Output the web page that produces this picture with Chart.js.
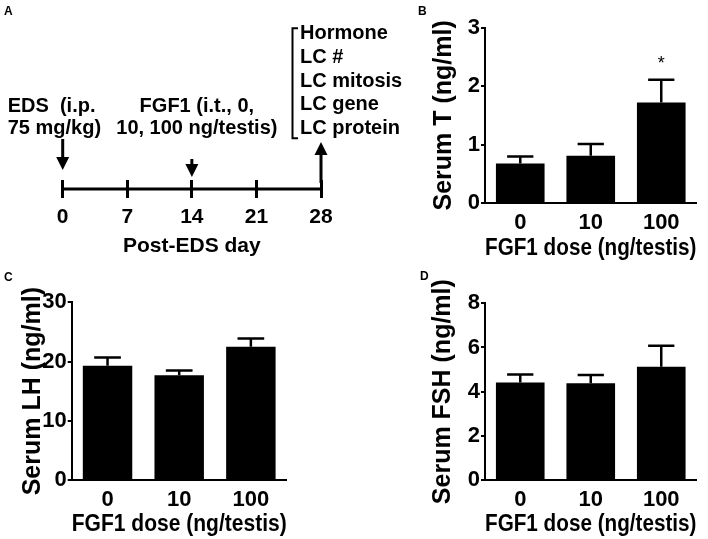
<!DOCTYPE html>
<html>
<head>
<meta charset="utf-8">
<script src="https://cdn.jsdelivr.net/npm/chart.js@4/dist/chart.umd.min.js"></script>
<style>
html,body{margin:0;padding:0;background:#fff;}
#wrap{position:relative;width:708px;height:539px;overflow:hidden;background:#fff;}
canvas{position:absolute;}
</style>
</head>
<body>
<div id="wrap">
<canvas id="cA" width="420" height="265" style="left:0px;top:0px;width:420px;height:265px"></canvas>
<canvas id="cB" width="308" height="265" style="left:400px;top:0px;width:308px;height:265px"></canvas>
<canvas id="cC" width="340" height="274" style="left:0px;top:265px;width:340px;height:274px"></canvas>
<canvas id="cD" width="308" height="274" style="left:400px;top:265px;width:308px;height:274px"></canvas>
</div>
<script>
// ---------- data ----------
const doseLabels = ['0', '10', '100'];
const serumT = [0.68, 0.81, 1.72];
const serumTErr = [0.12, 0.20, 0.39];
const serumTSig = ['', '', '*'];
const serumLH = [19.3, 17.7, 22.5];
const serumLHErr = [1.4, 0.8, 1.4];
const serumLHSig = ['', '', ''];
const serumFSH = [4.41, 4.38, 5.13];
const serumFSHErr = [0.37, 0.37, 0.95];
const serumFSHSig = ['', '', ''];

const timelineTicks = [0, 7, 14, 21, 28];
const eventDays = [0, 14, 28];
const edsText = ['EDS  (i.p.', '75 mg/kg)'];
const fgfText = ['FGF1 (i.t., 0,', '10, 100 ng/testis)'];
const endpoints = ['Hormone', 'LC #', 'LC mitosis', 'LC gene', 'LC protein'];

const FONT = '"Liberation Sans", Arial, Helvetica, sans-serif';
Chart.defaults.font.family = FONT;
Chart.defaults.color = '#000';

// ---------- plugins ----------
const letterPlugin = {
  id: 'panelLetter',
  afterDraw(chart, args, opts) {
    const ctx = chart.ctx;
    ctx.save();
    ctx.fillStyle = '#000';
    ctx.font = 'bold 12px ' + FONT;
    ctx.textAlign = 'left';
    ctx.textBaseline = 'alphabetic';
    ctx.fillText(opts.text, opts.x, opts.y);
    ctx.restore();
  }
};

const errorBarPlugin = {
  id: 'errorBars',
  afterDatasetsDraw(chart) {
    const ctx = chart.ctx;
    const y = chart.scales.y;
    const ds = chart.data.datasets[0];
    const meta = chart.getDatasetMeta(0);
    ctx.save();
    ctx.strokeStyle = '#000';
    ctx.fillStyle = '#000';
    ctx.lineWidth = 2.5;
    meta.data.forEach((bar, i) => {
      const v = ds.data[i];
      const top = y.getPixelForValue(v + ds.errors[i]);
      const base = y.getPixelForValue(v);
      const half = bar.width * 0.27;
      ctx.beginPath();
      ctx.moveTo(bar.x, base);
      ctx.lineTo(bar.x, top);
      ctx.moveTo(bar.x - half, top);
      ctx.lineTo(bar.x + half, top);
      ctx.stroke();
      if (ds.marks && ds.marks[i]) {
        ctx.font = '18px ' + FONT;
        ctx.textAlign = 'center';
        ctx.textBaseline = 'middle';
        ctx.fillText(ds.marks[i], bar.x, top - 16);
      }
    });
    ctx.restore();
  }
};

function drawArrow(ctx, x, yFrom, yTip) {
  const dir = yTip > yFrom ? 1 : -1;
  const headLen = 13, headHalf = 6.5;
  ctx.lineWidth = 3;
  ctx.beginPath();
  ctx.moveTo(x, yFrom);
  ctx.lineTo(x, yTip - dir * headLen);
  ctx.stroke();
  ctx.beginPath();
  ctx.moveTo(x, yTip);
  ctx.lineTo(x - headHalf, yTip - dir * headLen);
  ctx.lineTo(x + headHalf, yTip - dir * headLen);
  ctx.closePath();
  ctx.fill();
}

const timelinePlugin = {
  id: 'timelineNotes',
  afterDraw(chart) {
    const ctx = chart.ctx;
    const x = chart.scales.x;
    const lineY = chart.scales.y.getPixelForValue(0);
    const p0 = x.getPixelForValue(eventDays[0]);
    const p1 = x.getPixelForValue(eventDays[1]);
    const p2 = x.getPixelForValue(eventDays[2]);
    ctx.save();
    ctx.fillStyle = '#000';
    ctx.strokeStyle = '#000';
    drawArrow(ctx, p0, lineY - 50, lineY - 19);
    drawArrow(ctx, p1, lineY - 30, lineY - 12);
    drawArrow(ctx, p2, lineY - 6, lineY - 47);

    ctx.font = 'bold 20px ' + FONT;
    ctx.textBaseline = 'middle';
    ctx.textAlign = 'left';
    edsText.forEach((t, i) => ctx.fillText(t, p0 - 55, lineY - 82.3 + i * 21.6));
    ctx.textAlign = 'center';
    fgfText.forEach((t, i) => ctx.fillText(t, p1 + 5, lineY - 82.3 + i * 21.6));
    ctx.textAlign = 'left';
    endpoints.forEach((t, i) => ctx.fillText(t, p2 - 21, lineY - 155.3 + i * 23.65));
    // bracket
    const bx = p2 - 28.5, bt = lineY - 160.7, bb = lineY - 50.7;
    ctx.lineWidth = 2;
    ctx.beginPath();
    ctx.moveTo(bx + 5.5, bt);
    ctx.lineTo(bx, bt);
    ctx.lineTo(bx, bb);
    ctx.lineTo(bx + 5.5, bb);
    ctx.stroke();
    ctx.restore();
  }
};

// ---------- panel A : timeline ----------
new Chart(document.getElementById('cA'), {
  type: 'scatter',
  data: {
    datasets: [{
      data: [{x: timelineTicks[0], y: 0}, {x: timelineTicks[timelineTicks.length - 1], y: 0}],
      showLine: true,
      borderColor: '#000',
      borderWidth: 3,
      pointRadius: 0,
      clip: false
    }]
  },
  options: {
    responsive: false, animation: false, devicePixelRatio: 1,
    layout: {padding: {left: 62.7, right: 99, top: 180, bottom: 0}},
    plugins: {
      legend: {display: false}, tooltip: {enabled: false},
      panelLetter: {text: 'A', x: 4, y: 15}
    },
    scales: {
      x: {
        type: 'linear',
        min: timelineTicks[0], max: timelineTicks[timelineTicks.length - 1],
        afterBuildTicks: s => { s.ticks = timelineTicks.map(v => ({value: v})); },
        grid: {display: true, drawOnChartArea: true, drawTicks: false, color: '#000', lineWidth: 3},
        border: {display: false},
        ticks: {font: {size: 21, weight: 'bold'}, padding: 7, color: '#000'},
        title: {display: true, text: 'Post-EDS day', font: {size: 21, weight: 'bold'}, color: '#000', padding: {top: 0, bottom: 6}},
        afterFit: s => { s.height = 67; }
      },
      y: {display: false, min: -1, max: 1}
    }
  },
  plugins: [timelinePlugin, letterPlugin]
});

// ---------- bar panels ----------
function makeBar(id, letter, values, errs, marks, yMax, yStep, yTitle, g) {
  return new Chart(document.getElementById(id), {
    type: 'bar',
    data: {
      labels: doseLabels,
      datasets: [{
        data: values, errors: errs, marks: marks,
        backgroundColor: '#000', borderWidth: 0,
        barPercentage: 0.69, categoryPercentage: 1
      }]
    },
    options: {
      responsive: false, animation: false, devicePixelRatio: 1,
      layout: {padding: {top: g.top, right: g.right, left: 0, bottom: 0}},
      plugins: {
        legend: {display: false}, tooltip: {enabled: false},
        panelLetter: {text: letter, x: g.lx, y: g.ly}
      },
      scales: {
        x: {
          grid: {display: false},
          border: {display: true, color: '#000', width: 2},
          ticks: {font: {size: 22, weight: 'bold', lineHeight: 1}, padding: g.xtp, color: '#000'},
          title: {display: true, text: 'FGF1 dose (ng/testis)', color: '#000', font: {size: 23, weight: 'bold'}, padding: {top: 0, bottom: g.xtitle}},
          afterFit: s => { s.height = g.xH; }
        },
        y: {
          min: 0, max: yMax,
          ticks: {stepSize: yStep, font: {size: 22, weight: 'bold'}, padding: 1, color: '#000'},
          grid: {display: true, drawOnChartArea: false, drawTicks: true, tickLength: 4, color: '#000', lineWidth: 2},
          border: {display: true, color: '#000', width: 2},
          title: {display: true, text: yTitle, color: '#000', font: {size: 25, weight: 'bold'}, padding: {top: g.ytitle, bottom: 0}},
          afterFit: s => { s.width = g.yW; }
        }
      }
    },
    plugins: [errorBarPlugin, letterPlugin]
  });
}

makeBar('cB', 'B', serumT, serumTErr, serumTSig, 3, 1, 'Serum T (ng/ml)',
  {top: 27.5, right: 11.5, yW: 85, xH: 61.7, xtp: 0.5, xtitle: 3, ytitle: 29, lx: 18, ly: 15});
makeBar('cC', 'C', serumLH, serumLHErr, serumLHSig, 30, 10, 'Serum LH (ng/ml)',
  {top: 37.3, right: 53.3, yW: 71.7, xH: 59, xtp: 0.7, xtitle: 0.5, ytitle: 18, lx: 4, ly: 16});
makeBar('cD', 'D', serumFSH, serumFSHErr, serumFSHSig, 8, 2, 'Serum FSH (ng/ml)',
  {top: 38.3, right: 11.5, yW: 85, xH: 59, xtp: 0.7, xtitle: 0.5, ytitle: 28, lx: 20, ly: 15});
</script>
</body>
</html>
